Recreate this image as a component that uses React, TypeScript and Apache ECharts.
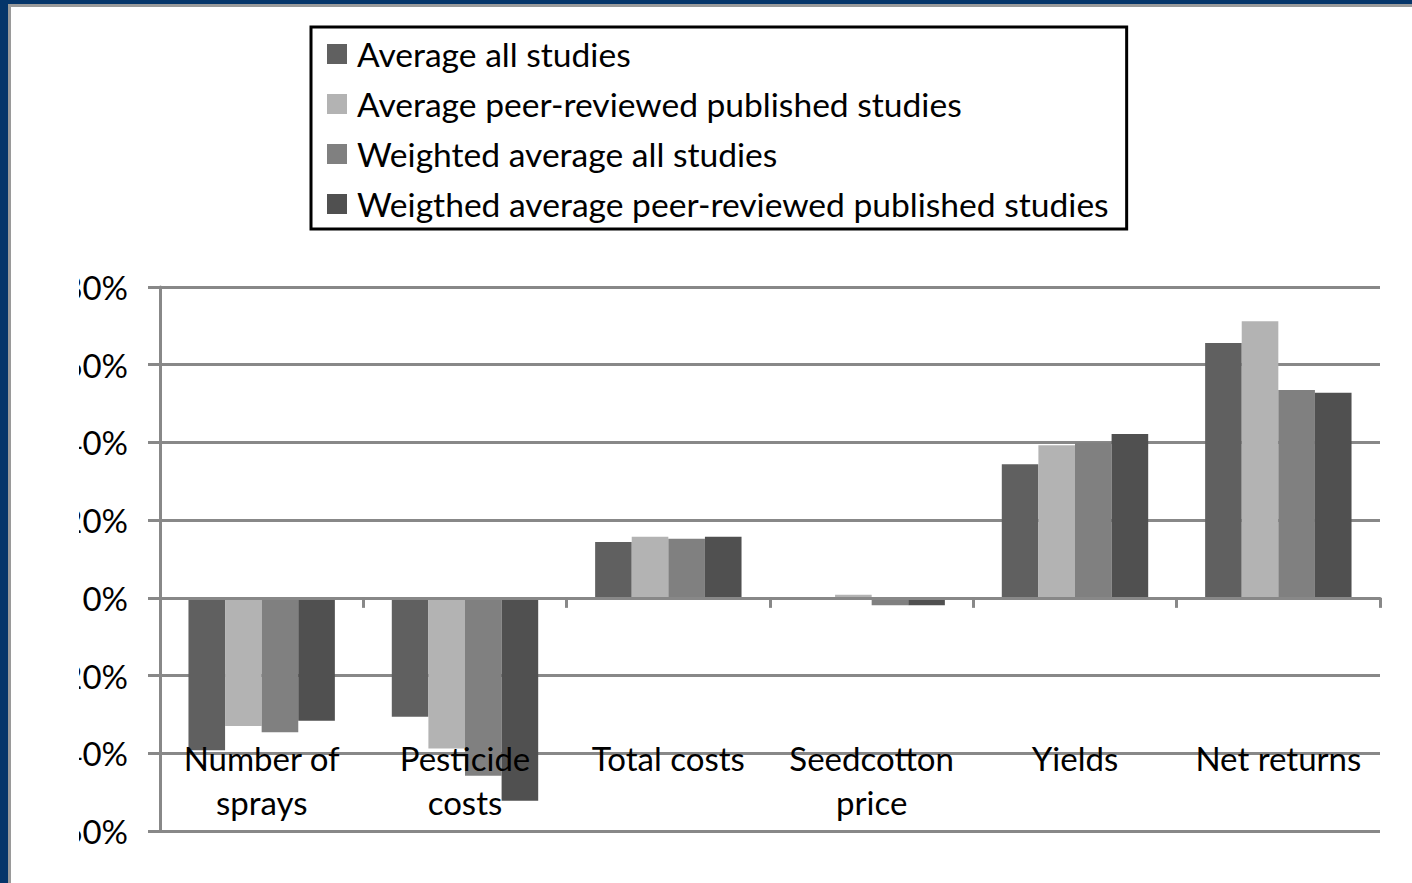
import React, { useEffect, useRef } from "react";
import * as echarts from "echarts";

const categories = ["Number of\nsprays", "Pesticide\ncosts", "Total costs", "Seedcotton\nprice", "Yields", "Net returns"];
const seriesNames = [
  "Average all studies",
  "Average peer-reviewed published studies",
  "Weighted average all studies",
  "Weigthed average peer-reviewed published studies",
];
const avgAll = [-39.2, -30.6, 14.4, 0, 34.4, 65.6];
const avgPeer = [-33.0, -38.8, 15.7, 0.8, 39.3, 71.2];
const wAvgAll = [-34.6, -45.8, 15.2, -1.9, 40.0, 53.5];
const wAvgPeer = [-31.6, -52.2, 15.7, -1.9, 42.2, 52.8];
const seriesColors = ["#606060", "#b3b3b3", "#808080", "#505050"];
const yTicks = { min: -60, max: 80, interval: 20 };

const FONT = "Lato";
const FS = 33;

export default function App() {
  const ref = useRef<HTMLDivElement>(null);
  useEffect(() => {
    document.body.style.margin = "0";
    if (!ref.current) return;
    const chart = echarts.init(ref.current, null, { renderer: "svg" });
    const values = [avgAll, avgPeer, wAvgAll, wAvgPeer];
    chart.setOption({
      animation: false,
      textStyle: { fontFamily: FONT },
      grid: { left: 160, right: 32, top: 287, bottom: 52, containLabel: false, outerBoundsMode: "none" },
      legend: {
        orient: "vertical",
        left: 311,
        top: 27,
        padding: [10, 18, 8, 16],
        borderColor: "#000",
        borderWidth: 3,
        itemWidth: 20,
        itemHeight: 20,
        itemGap: 16,
        icon: "rect",
        selectedMode: false,
        textStyle: { fontFamily: FONT, fontSize: 33.6, lineHeight: 33, color: "#000", padding: [0, 0, 0, 5] },
        data: seriesNames,
      },
      xAxis: {
        type: "category",
        data: categories,
        z: 10,
        axisLine: { onZero: true, lineStyle: { color: "#888", width: 3 } },
        axisTick: { show: true, length: 10, lineStyle: { color: "#888", width: 3 } },
        axisLabel: { interval: 0, margin: -95, fontSize: FS, lineHeight: 44, color: "#000", fontFamily: FONT },
        splitLine: { show: false },
      },
      yAxis: {
        type: "value",
        min: yTicks.min,
        max: yTicks.max,
        interval: yTicks.interval,
        axisLine: { show: true, lineStyle: { color: "#888", width: 3 } },
        axisTick: { show: true, length: 12, lineStyle: { color: "#888", width: 3 } },
        axisLabel: { formatter: "{value}%", margin: 32, fontSize: FS, color: "#000", fontFamily: FONT },
        splitLine: { show: true, lineStyle: { color: "#888", width: 3 } },
      },
      graphic: [
        { type: "rect", left: 12, top: 260, shape: { width: 67, height: 600 }, style: { fill: "#fff" }, z: 100 },
      ],
      series: seriesNames.map((name, i) => ({
        name,
        type: "bar",
        data: values[i],
        itemStyle: { color: seriesColors[i] },
        barGap: "0%",
        barCategoryGap: "28%",
      })),
    });
    return () => chart.dispose();
  }, []);
  return (
    <div style={{ position: "fixed", left: 0, top: 0, width: 1412, height: 883, background: "#05356a" }}>
      <div
        style={{
          position: "absolute",
          left: 8,
          top: 4,
          right: 0,
          bottom: 0,
          background: "#fff",
          borderLeft: "3px solid #9a9a9a",
          borderTop: "3px solid #9a9a9a",
        }}
      />
      <div ref={ref} style={{ position: "absolute", left: 0, top: 0, width: 1412, height: 883 }} />
    </div>
  );
}
